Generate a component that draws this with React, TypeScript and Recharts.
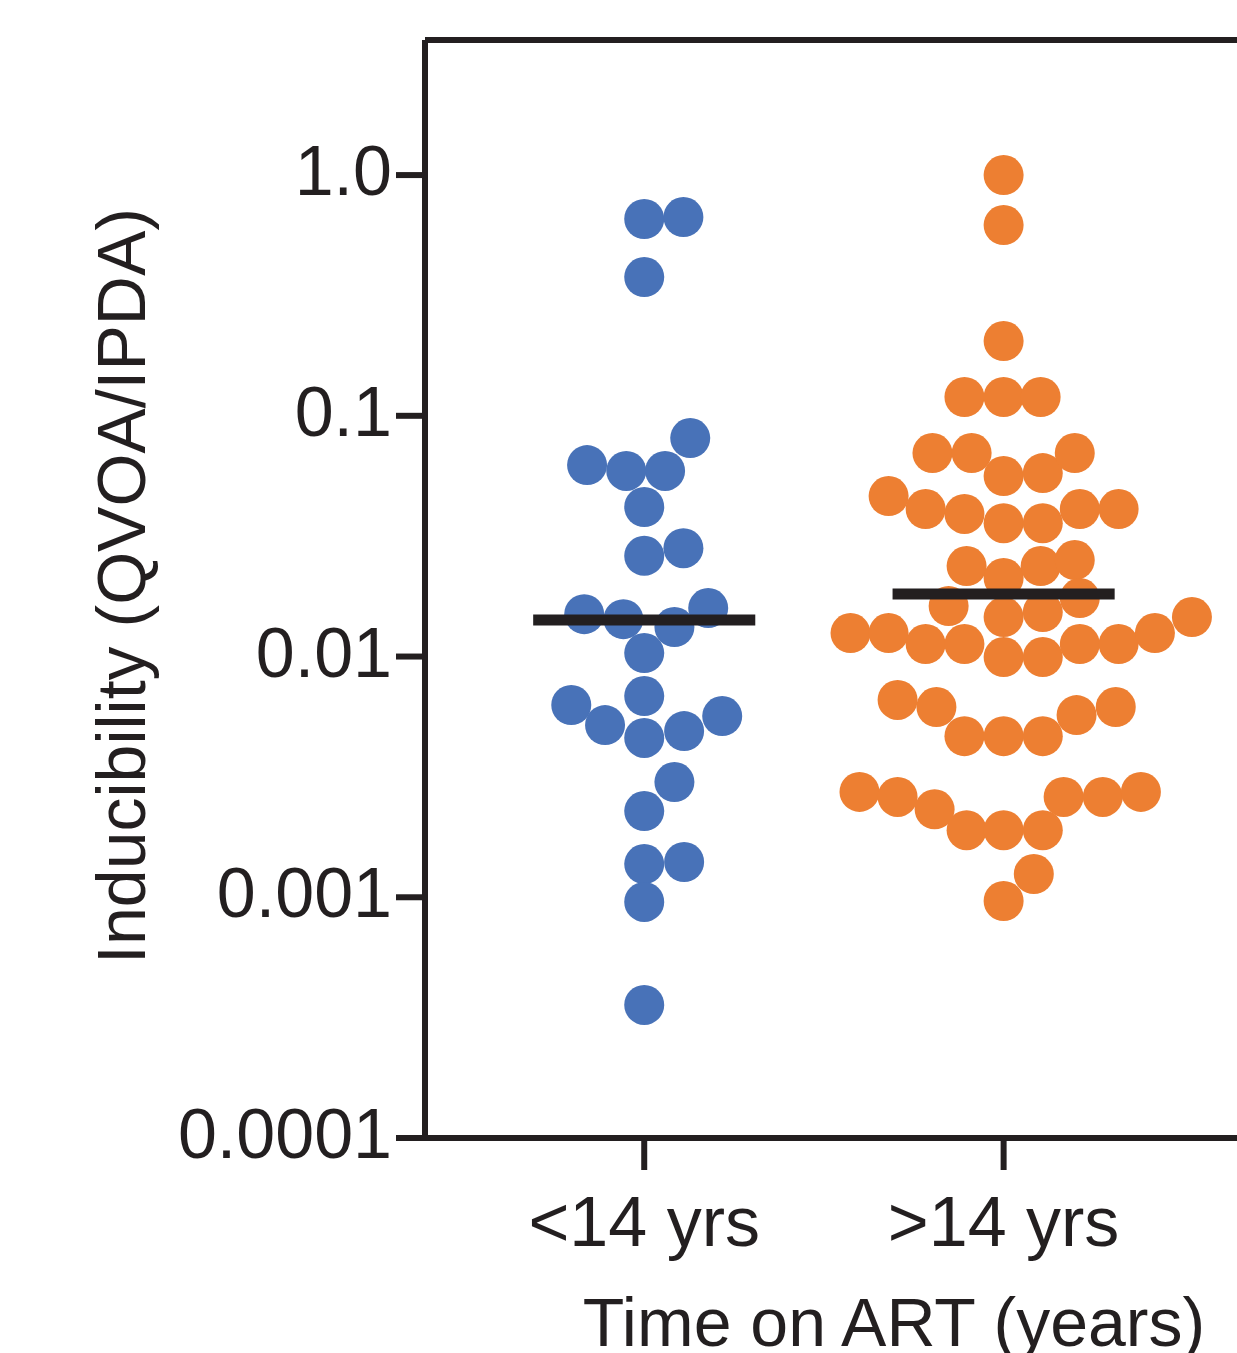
import { ScatterChart, Scatter, XAxis, YAxis, ReferenceLine } from "recharts";

const groups = ["<14 yrs", ">14 yrs"];

const yTicks = [0.0001, 0.001, 0.01, 0.1, 1];
const yTickLabels = ["0.0001", "0.001", "0.01", "0.1", "1.0"];

// inducibility, <14 yrs on ART
const lowValues = [
  0.657, 0.669, 0.377, 0.0808, 0.0624, 0.059, 0.059, 0.0418, 0.0262, 0.0282,
  0.015, 0.0143, 0.01326, 0.0159, 0.01034, 0.00629, 0.00685, 0.00519, 0.00459,
  0.0049, 0.00566, 0.00301, 0.00228, 0.001374, 0.001401, 0.000956, 0.000357,
];
// swarm offset from the column centre, in x-axis units
const lowSwarm = [
  0, 0.109, 0, 0.128, -0.159, -0.05, 0.058, 0, 0, 0.109,
  -0.167, -0.058, 0.084, 0.178, 0, -0.203, 0, -0.109, 0,
  0.111, 0.217, 0.084, 0, 0, 0.111, 0, 0,
];

// inducibility, >14 yrs on ART
const highValues = [
  1.0, 0.62, 0.2044, 0.1197, 0.1197, 0.1197, 0.07, 0.07, 0.0562, 0.0578,
  0.07, 0.0464, 0.041, 0.0391, 0.0358, 0.0358, 0.041, 0.041, 0.02376, 0.02119,
  0.02376, 0.02517, 0.01621, 0.01459, 0.0153, 0.0175, 0.01252, 0.01252, 0.01127, 0.01127,
  0.00995, 0.00995, 0.01127, 0.01127, 0.01252, 0.01459, 0.0066, 0.00617, 0.00467, 0.00467,
  0.00467, 0.00571, 0.00617, 0.00274, 0.00261, 0.00232, 0.0019, 0.0019, 0.0019, 0.00261,
  0.00261, 0.00274, 0.001249, 0.000965,
];
const highSwarm = [
  0, 0, 0, -0.109, 0, 0.103, -0.198, -0.089, 0, 0.109,
  0.198, -0.32, -0.217, -0.109, 0, 0.109, 0.212, 0.32, -0.103, 0,
  0.103, 0.198, -0.153, 0, 0.109, 0.212, -0.426, -0.32, -0.217, -0.109,
  0, 0.109, 0.212, 0.32, 0.421, 0.524, -0.295, -0.187, -0.109, 0,
  0.109, 0.203, 0.312, -0.401, -0.295, -0.192, -0.103, 0, 0.109, 0.167,
  0.276, 0.382, 0.084, 0,
];

const medians = [0.0142, 0.0182];

const colors = ["#4872b8", "#ed7f32"];
const ink = "#231f20";
const font = '"Liberation Sans", Arial, Helvetica, sans-serif';
const medianHalfWidth = 0.309;

const lowData = lowValues.map((v, i) => ({ x: 1 + lowSwarm[i], y: v }));
const highData = highValues.map((v, i) => ({ x: 2 + highSwarm[i], y: v }));
const medianData = medians.map((m, i) => [
  { x: i + 1 - medianHalfWidth, y: m },
  { x: i + 1 + medianHalfWidth, y: m },
]);

const dot = (fill: string) => (props: any) => (
  <circle cx={props.cx} cy={props.cy} r={20} fill={fill} />
);
const noDot = () => <g />;

const YTick = (props: any) => {
  const idx = yTicks.indexOf(props.payload.value);
  return (
    <text x={props.x} y={props.y} dy={20} textAnchor="end" fontSize={70} fontFamily={font} fill={ink}>
      {idx >= 0 ? yTickLabels[idx] : ""}
    </text>
  );
};

const XTick = (props: any) => (
  <text x={props.x} y={props.y} dy="0.71em" textAnchor="middle" fontSize={70} fontFamily={font} fill={ink}>
    {groups[props.payload.value - 1]}
  </text>
);

const YLabel = (props: any) => {
  const vb = props.viewBox;
  const cx = vb.x + 145;
  const cy = vb.y + vb.height / 2 - 3;
  return (
    <text
      x={cx}
      y={cy}
      textAnchor="middle"
      fontSize={68}
      fontFamily={font}
      fill={ink}
      transform={`rotate(-90 ${cx} ${cy})`}
    >
      Inducibility (QVOA/IPDA)
    </text>
  );
};

export default function App() {
  return (
    <div style={{ position: "absolute", left: 0, top: 0, width: 1237, height: 1353, overflow: "hidden", background: "#fff" }}>
      <ScatterChart width={1370} height={1353} margin={{ top: 40, right: 7, left: 0, bottom: 0 }}>
        <XAxis
          type="number"
          dataKey="x"
          domain={[0.39, 3]}
          ticks={[1, 2]}
          interval={0}
          allowDataOverflow
          height={215}
          tickSize={32}
          tickMargin={26}
          tick={<XTick />}
          tickLine={{ stroke: ink, strokeWidth: 6 }}
          axisLine={{ stroke: ink, strokeWidth: 6 }}
          label={{
            value: "Time on ART (years)",
            position: "insideBottom",
            offset: 7,
            fontSize: 68,
            fontFamily: font,
            fill: ink,
          }}
        />
        <YAxis
          type="number"
          dataKey="y"
          scale="log"
          domain={[0.0001, 3.64]}
          ticks={yTicks}
          interval={0}
          allowDataOverflow
          width={425}
          tickSize={29}
          tickMargin={4}
          tick={<YTick />}
          tickLine={{ stroke: ink, strokeWidth: 6 }}
          axisLine={{ stroke: ink, strokeWidth: 6 }}
          label={{ content: YLabel }}
        />
        <ReferenceLine y={3.64} stroke={ink} strokeWidth={6} ifOverflow="visible" />
        <Scatter data={lowData} fill={colors[0]} shape={dot(colors[0])} isAnimationActive={false} />
        <Scatter data={highData} fill={colors[1]} shape={dot(colors[1])} isAnimationActive={false} />
        {medianData.map((seg, i) => (
          <Scatter
            key={i}
            data={seg}
            shape={noDot}
            line={{ stroke: ink, strokeWidth: 11 }}
            lineType="joint"
            isAnimationActive={false}
          />
        ))}
      </ScatterChart>
    </div>
  );
}
